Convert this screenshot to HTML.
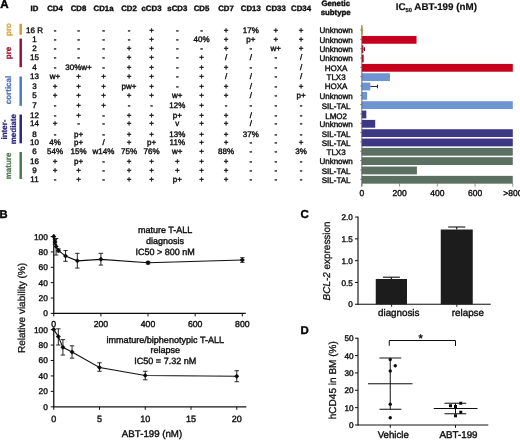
<!DOCTYPE html>
<html><head><meta charset="utf-8"><title>Figure</title>
<style>
html,body{margin:0;padding:0;background:#fff;}
body{width:520px;height:440px;overflow:hidden;font-family:"Liberation Sans",sans-serif;}
svg{display:block;font-family:"Liberation Sans",sans-serif;text-rendering:geometricPrecision;}
</style></head><body>
<svg width="520" height="440" viewBox="0 0 520 440">
<defs><filter id="soft" x="0" y="0" width="520" height="440" filterUnits="userSpaceOnUse"><feGaussianBlur stdDeviation="0.4"/></filter></defs>
<rect width="520" height="440" fill="#fff"/>
<g filter="url(#soft)">
<text x="34.5" y="10.8" font-size="7.8" text-anchor="middle" font-weight="bold" fill="#111" stroke="#111" stroke-width="0.4" >ID</text>
<text x="55" y="10.8" font-size="7.8" text-anchor="middle" font-weight="bold" fill="#111" stroke="#111" stroke-width="0.4" >CD4</text>
<text x="78.5" y="10.8" font-size="7.8" text-anchor="middle" font-weight="bold" fill="#111" stroke="#111" stroke-width="0.4" >CD8</text>
<text x="103.5" y="10.8" font-size="7.8" text-anchor="middle" font-weight="bold" fill="#111" stroke="#111" stroke-width="0.4" >CD1a</text>
<text x="129" y="10.8" font-size="7.8" text-anchor="middle" font-weight="bold" fill="#111" stroke="#111" stroke-width="0.4" >CD2</text>
<text x="151.5" y="10.8" font-size="7.8" text-anchor="middle" font-weight="bold" fill="#111" stroke="#111" stroke-width="0.4" >cCD3</text>
<text x="177.3" y="10.8" font-size="7.8" text-anchor="middle" font-weight="bold" fill="#111" stroke="#111" stroke-width="0.4" >sCD3</text>
<text x="201.5" y="10.8" font-size="7.8" text-anchor="middle" font-weight="bold" fill="#111" stroke="#111" stroke-width="0.4" >CD5</text>
<text x="226" y="10.8" font-size="7.8" text-anchor="middle" font-weight="bold" fill="#111" stroke="#111" stroke-width="0.4" >CD7</text>
<text x="250.8" y="10.8" font-size="7.8" text-anchor="middle" font-weight="bold" fill="#111" stroke="#111" stroke-width="0.4" >CD13</text>
<text x="275.75" y="10.8" font-size="7.8" text-anchor="middle" font-weight="bold" fill="#111" stroke="#111" stroke-width="0.4" >CD33</text>
<text x="301" y="10.8" font-size="7.8" text-anchor="middle" font-weight="bold" fill="#111" stroke="#111" stroke-width="0.4" >CD34</text>
<text x="335.7" y="6.0" font-size="7.8" text-anchor="middle" font-weight="bold" fill="#111" stroke="#111" stroke-width="0.4" >Genetic</text>
<text x="335.7" y="15.2" font-size="7.8" text-anchor="middle" font-weight="bold" fill="#111" stroke="#111" stroke-width="0.4" >subtype</text>
<text x="34.5" y="32.6" font-size="8.0" text-anchor="middle" font-weight="normal" fill="#111" stroke="#111" stroke-width="0.4" >16 R</text>
<text x="55" y="32.6" font-size="8.0" text-anchor="middle" font-weight="normal" fill="#111" stroke="#111" stroke-width="0.4" >-</text>
<text x="78.5" y="32.6" font-size="8.0" text-anchor="middle" font-weight="normal" fill="#111" stroke="#111" stroke-width="0.4" >-</text>
<text x="103.5" y="32.6" font-size="8.0" text-anchor="middle" font-weight="normal" fill="#111" stroke="#111" stroke-width="0.4" >-</text>
<text x="129" y="32.6" font-size="8.0" text-anchor="middle" font-weight="normal" fill="#111" stroke="#111" stroke-width="0.4" >-</text>
<text x="151.5" y="32.6" font-size="8.0" text-anchor="middle" font-weight="normal" fill="#111" stroke="#111" stroke-width="0.4" >+</text>
<text x="177.3" y="32.6" font-size="8.0" text-anchor="middle" font-weight="normal" fill="#111" stroke="#111" stroke-width="0.4" >-</text>
<text x="201.5" y="32.6" font-size="8.0" text-anchor="middle" font-weight="normal" fill="#111" stroke="#111" stroke-width="0.4" >-</text>
<text x="226" y="32.6" font-size="8.0" text-anchor="middle" font-weight="normal" fill="#111" stroke="#111" stroke-width="0.4" >+</text>
<text x="250.8" y="32.6" font-size="8.0" text-anchor="middle" font-weight="normal" fill="#111" stroke="#111" stroke-width="0.4" >17%</text>
<text x="275.75" y="32.6" font-size="8.0" text-anchor="middle" font-weight="normal" fill="#111" stroke="#111" stroke-width="0.4" >+</text>
<text x="301" y="32.6" font-size="8.0" text-anchor="middle" font-weight="normal" fill="#111" stroke="#111" stroke-width="0.4" >+</text>
<text x="336.1" y="33.3" font-size="8.0" text-anchor="middle" font-weight="normal" fill="#111" stroke="#111" stroke-width="0.4" >Unknown</text>
<text x="34.5" y="41.93" font-size="8.0" text-anchor="middle" font-weight="normal" fill="#111" stroke="#111" stroke-width="0.4" >1</text>
<text x="55" y="41.93" font-size="8.0" text-anchor="middle" font-weight="normal" fill="#111" stroke="#111" stroke-width="0.4" >-</text>
<text x="78.5" y="41.93" font-size="8.0" text-anchor="middle" font-weight="normal" fill="#111" stroke="#111" stroke-width="0.4" >-</text>
<text x="103.5" y="41.93" font-size="8.0" text-anchor="middle" font-weight="normal" fill="#111" stroke="#111" stroke-width="0.4" >-</text>
<text x="129" y="41.93" font-size="8.0" text-anchor="middle" font-weight="normal" fill="#111" stroke="#111" stroke-width="0.4" >-</text>
<text x="151.5" y="41.93" font-size="8.0" text-anchor="middle" font-weight="normal" fill="#111" stroke="#111" stroke-width="0.4" >+</text>
<text x="177.3" y="41.93" font-size="8.0" text-anchor="middle" font-weight="normal" fill="#111" stroke="#111" stroke-width="0.4" >-</text>
<text x="201.5" y="41.93" font-size="8.0" text-anchor="middle" font-weight="normal" fill="#111" stroke="#111" stroke-width="0.4" >40%</text>
<text x="226" y="41.93" font-size="8.0" text-anchor="middle" font-weight="normal" fill="#111" stroke="#111" stroke-width="0.4" >+</text>
<text x="250.8" y="41.93" font-size="8.0" text-anchor="middle" font-weight="normal" fill="#111" stroke="#111" stroke-width="0.4" >p+</text>
<text x="275.75" y="41.93" font-size="8.0" text-anchor="middle" font-weight="normal" fill="#111" stroke="#111" stroke-width="0.4" >+</text>
<text x="301" y="41.93" font-size="8.0" text-anchor="middle" font-weight="normal" fill="#111" stroke="#111" stroke-width="0.4" >+</text>
<text x="336.1" y="42.63" font-size="8.0" text-anchor="middle" font-weight="normal" fill="#111" stroke="#111" stroke-width="0.4" >Unknown</text>
<text x="34.5" y="51.36" font-size="8.0" text-anchor="middle" font-weight="normal" fill="#111" stroke="#111" stroke-width="0.4" >2</text>
<text x="55" y="51.36" font-size="8.0" text-anchor="middle" font-weight="normal" fill="#111" stroke="#111" stroke-width="0.4" >-</text>
<text x="78.5" y="51.36" font-size="8.0" text-anchor="middle" font-weight="normal" fill="#111" stroke="#111" stroke-width="0.4" >-</text>
<text x="103.5" y="51.36" font-size="8.0" text-anchor="middle" font-weight="normal" fill="#111" stroke="#111" stroke-width="0.4" >-</text>
<text x="129" y="51.36" font-size="8.0" text-anchor="middle" font-weight="normal" fill="#111" stroke="#111" stroke-width="0.4" >+</text>
<text x="151.5" y="51.36" font-size="8.0" text-anchor="middle" font-weight="normal" fill="#111" stroke="#111" stroke-width="0.4" >+</text>
<text x="177.3" y="51.36" font-size="8.0" text-anchor="middle" font-weight="normal" fill="#111" stroke="#111" stroke-width="0.4" >-</text>
<text x="201.5" y="51.36" font-size="8.0" text-anchor="middle" font-weight="normal" fill="#111" stroke="#111" stroke-width="0.4" >-</text>
<text x="226" y="51.36" font-size="8.0" text-anchor="middle" font-weight="normal" fill="#111" stroke="#111" stroke-width="0.4" >+</text>
<text x="250.8" y="51.36" font-size="8.0" text-anchor="middle" font-weight="normal" fill="#111" stroke="#111" stroke-width="0.4" >-</text>
<text x="275.75" y="51.36" font-size="8.0" text-anchor="middle" font-weight="normal" fill="#111" stroke="#111" stroke-width="0.4" >w+</text>
<text x="301" y="51.36" font-size="8.0" text-anchor="middle" font-weight="normal" fill="#111" stroke="#111" stroke-width="0.4" >+</text>
<text x="336.1" y="52.06" font-size="8.0" text-anchor="middle" font-weight="normal" fill="#111" stroke="#111" stroke-width="0.4" >Unknown</text>
<text x="34.5" y="60.19" font-size="8.0" text-anchor="middle" font-weight="normal" fill="#111" stroke="#111" stroke-width="0.4" >15</text>
<text x="55" y="60.19" font-size="8.0" text-anchor="middle" font-weight="normal" fill="#111" stroke="#111" stroke-width="0.4" >-</text>
<text x="78.5" y="60.19" font-size="8.0" text-anchor="middle" font-weight="normal" fill="#111" stroke="#111" stroke-width="0.4" >-</text>
<text x="103.5" y="60.19" font-size="8.0" text-anchor="middle" font-weight="normal" fill="#111" stroke="#111" stroke-width="0.4" >-</text>
<text x="129" y="60.19" font-size="8.0" text-anchor="middle" font-weight="normal" fill="#111" stroke="#111" stroke-width="0.4" >+</text>
<text x="151.5" y="60.19" font-size="8.0" text-anchor="middle" font-weight="normal" fill="#111" stroke="#111" stroke-width="0.4" >+</text>
<text x="177.3" y="60.19" font-size="8.0" text-anchor="middle" font-weight="normal" fill="#111" stroke="#111" stroke-width="0.4" >-</text>
<text x="201.5" y="60.19" font-size="8.0" text-anchor="middle" font-weight="normal" fill="#111" stroke="#111" stroke-width="0.4" >+</text>
<text x="226" y="60.19" font-size="8.0" text-anchor="middle" font-weight="normal" fill="#111" stroke="#111" stroke-width="0.4" >/</text>
<text x="250.8" y="60.19" font-size="8.0" text-anchor="middle" font-weight="normal" fill="#111" stroke="#111" stroke-width="0.4" >/</text>
<text x="275.75" y="60.19" font-size="8.0" text-anchor="middle" font-weight="normal" fill="#111" stroke="#111" stroke-width="0.4" >-</text>
<text x="301" y="60.19" font-size="8.0" text-anchor="middle" font-weight="normal" fill="#111" stroke="#111" stroke-width="0.4" >/</text>
<text x="336.1" y="60.89" font-size="8.0" text-anchor="middle" font-weight="normal" fill="#111" stroke="#111" stroke-width="0.4" >Unknown</text>
<text x="34.5" y="70.02" font-size="8.0" text-anchor="middle" font-weight="normal" fill="#111" stroke="#111" stroke-width="0.4" >4</text>
<text x="55" y="70.02" font-size="8.0" text-anchor="middle" font-weight="normal" fill="#111" stroke="#111" stroke-width="0.4" >-</text>
<text x="78.5" y="70.02" font-size="8.0" text-anchor="middle" font-weight="normal" fill="#111" stroke="#111" stroke-width="0.4" >30%w+</text>
<text x="103.5" y="70.02" font-size="8.0" text-anchor="middle" font-weight="normal" fill="#111" stroke="#111" stroke-width="0.4" >-</text>
<text x="129" y="70.02" font-size="8.0" text-anchor="middle" font-weight="normal" fill="#111" stroke="#111" stroke-width="0.4" >+</text>
<text x="151.5" y="70.02" font-size="8.0" text-anchor="middle" font-weight="normal" fill="#111" stroke="#111" stroke-width="0.4" >+</text>
<text x="177.3" y="70.02" font-size="8.0" text-anchor="middle" font-weight="normal" fill="#111" stroke="#111" stroke-width="0.4" >-</text>
<text x="201.5" y="70.02" font-size="8.0" text-anchor="middle" font-weight="normal" fill="#111" stroke="#111" stroke-width="0.4" >+</text>
<text x="226" y="70.02" font-size="8.0" text-anchor="middle" font-weight="normal" fill="#111" stroke="#111" stroke-width="0.4" >+</text>
<text x="250.8" y="70.02" font-size="8.0" text-anchor="middle" font-weight="normal" fill="#111" stroke="#111" stroke-width="0.4" >-</text>
<text x="275.75" y="70.02" font-size="8.0" text-anchor="middle" font-weight="normal" fill="#111" stroke="#111" stroke-width="0.4" >-</text>
<text x="301" y="70.02" font-size="8.0" text-anchor="middle" font-weight="normal" fill="#111" stroke="#111" stroke-width="0.4" >/</text>
<text x="336.1" y="70.72" font-size="8.0" text-anchor="middle" font-weight="normal" fill="#111" stroke="#111" stroke-width="0.4" >HOXA</text>
<text x="34.5" y="79.45" font-size="8.0" text-anchor="middle" font-weight="normal" fill="#111" stroke="#111" stroke-width="0.4" >13</text>
<text x="55" y="79.45" font-size="8.0" text-anchor="middle" font-weight="normal" fill="#111" stroke="#111" stroke-width="0.4" >w+</text>
<text x="78.5" y="79.45" font-size="8.0" text-anchor="middle" font-weight="normal" fill="#111" stroke="#111" stroke-width="0.4" >+</text>
<text x="103.5" y="79.45" font-size="8.0" text-anchor="middle" font-weight="normal" fill="#111" stroke="#111" stroke-width="0.4" >+</text>
<text x="129" y="79.45" font-size="8.0" text-anchor="middle" font-weight="normal" fill="#111" stroke="#111" stroke-width="0.4" >+</text>
<text x="151.5" y="79.45" font-size="8.0" text-anchor="middle" font-weight="normal" fill="#111" stroke="#111" stroke-width="0.4" >+</text>
<text x="177.3" y="79.45" font-size="8.0" text-anchor="middle" font-weight="normal" fill="#111" stroke="#111" stroke-width="0.4" >-</text>
<text x="201.5" y="79.45" font-size="8.0" text-anchor="middle" font-weight="normal" fill="#111" stroke="#111" stroke-width="0.4" >+</text>
<text x="226" y="79.45" font-size="8.0" text-anchor="middle" font-weight="normal" fill="#111" stroke="#111" stroke-width="0.4" >/</text>
<text x="250.8" y="79.45" font-size="8.0" text-anchor="middle" font-weight="normal" fill="#111" stroke="#111" stroke-width="0.4" >/</text>
<text x="275.75" y="79.45" font-size="8.0" text-anchor="middle" font-weight="normal" fill="#111" stroke="#111" stroke-width="0.4" >-</text>
<text x="301" y="79.45" font-size="8.0" text-anchor="middle" font-weight="normal" fill="#111" stroke="#111" stroke-width="0.4" >/</text>
<text x="336.1" y="80.15" font-size="8.0" text-anchor="middle" font-weight="normal" fill="#111" stroke="#111" stroke-width="0.4" >TLX3</text>
<text x="34.5" y="88.78" font-size="8.0" text-anchor="middle" font-weight="normal" fill="#111" stroke="#111" stroke-width="0.4" >3</text>
<text x="55" y="88.78" font-size="8.0" text-anchor="middle" font-weight="normal" fill="#111" stroke="#111" stroke-width="0.4" >+</text>
<text x="78.5" y="88.78" font-size="8.0" text-anchor="middle" font-weight="normal" fill="#111" stroke="#111" stroke-width="0.4" >+</text>
<text x="103.5" y="88.78" font-size="8.0" text-anchor="middle" font-weight="normal" fill="#111" stroke="#111" stroke-width="0.4" >+</text>
<text x="129" y="88.78" font-size="8.0" text-anchor="middle" font-weight="normal" fill="#111" stroke="#111" stroke-width="0.4" >pw+</text>
<text x="151.5" y="88.78" font-size="8.0" text-anchor="middle" font-weight="normal" fill="#111" stroke="#111" stroke-width="0.4" >+</text>
<text x="177.3" y="88.78" font-size="8.0" text-anchor="middle" font-weight="normal" fill="#111" stroke="#111" stroke-width="0.4" >-</text>
<text x="201.5" y="88.78" font-size="8.0" text-anchor="middle" font-weight="normal" fill="#111" stroke="#111" stroke-width="0.4" >+</text>
<text x="226" y="88.78" font-size="8.0" text-anchor="middle" font-weight="normal" fill="#111" stroke="#111" stroke-width="0.4" >+</text>
<text x="250.8" y="88.78" font-size="8.0" text-anchor="middle" font-weight="normal" fill="#111" stroke="#111" stroke-width="0.4" >/</text>
<text x="275.75" y="88.78" font-size="8.0" text-anchor="middle" font-weight="normal" fill="#111" stroke="#111" stroke-width="0.4" >-</text>
<text x="301" y="88.78" font-size="8.0" text-anchor="middle" font-weight="normal" fill="#111" stroke="#111" stroke-width="0.4" >+</text>
<text x="336.1" y="89.48" font-size="8.0" text-anchor="middle" font-weight="normal" fill="#111" stroke="#111" stroke-width="0.4" >HOXA</text>
<text x="34.5" y="98.31" font-size="8.0" text-anchor="middle" font-weight="normal" fill="#111" stroke="#111" stroke-width="0.4" >5</text>
<text x="55" y="98.31" font-size="8.0" text-anchor="middle" font-weight="normal" fill="#111" stroke="#111" stroke-width="0.4" >+</text>
<text x="78.5" y="98.31" font-size="8.0" text-anchor="middle" font-weight="normal" fill="#111" stroke="#111" stroke-width="0.4" >+</text>
<text x="103.5" y="98.31" font-size="8.0" text-anchor="middle" font-weight="normal" fill="#111" stroke="#111" stroke-width="0.4" >+</text>
<text x="129" y="98.31" font-size="8.0" text-anchor="middle" font-weight="normal" fill="#111" stroke="#111" stroke-width="0.4" >+</text>
<text x="151.5" y="98.31" font-size="8.0" text-anchor="middle" font-weight="normal" fill="#111" stroke="#111" stroke-width="0.4" >+</text>
<text x="177.3" y="98.31" font-size="8.0" text-anchor="middle" font-weight="normal" fill="#111" stroke="#111" stroke-width="0.4" >w+</text>
<text x="201.5" y="98.31" font-size="8.0" text-anchor="middle" font-weight="normal" fill="#111" stroke="#111" stroke-width="0.4" >+</text>
<text x="226" y="98.31" font-size="8.0" text-anchor="middle" font-weight="normal" fill="#111" stroke="#111" stroke-width="0.4" >+</text>
<text x="250.8" y="98.31" font-size="8.0" text-anchor="middle" font-weight="normal" fill="#111" stroke="#111" stroke-width="0.4" >/</text>
<text x="275.75" y="98.31" font-size="8.0" text-anchor="middle" font-weight="normal" fill="#111" stroke="#111" stroke-width="0.4" >-</text>
<text x="301" y="98.31" font-size="8.0" text-anchor="middle" font-weight="normal" fill="#111" stroke="#111" stroke-width="0.4" >p+</text>
<text x="336.1" y="99.01" font-size="8.0" text-anchor="middle" font-weight="normal" fill="#111" stroke="#111" stroke-width="0.4" >Unknown</text>
<text x="34.5" y="107.94" font-size="8.0" text-anchor="middle" font-weight="normal" fill="#111" stroke="#111" stroke-width="0.4" >7</text>
<text x="55" y="107.94" font-size="8.0" text-anchor="middle" font-weight="normal" fill="#111" stroke="#111" stroke-width="0.4" >-</text>
<text x="78.5" y="107.94" font-size="8.0" text-anchor="middle" font-weight="normal" fill="#111" stroke="#111" stroke-width="0.4" >+</text>
<text x="103.5" y="107.94" font-size="8.0" text-anchor="middle" font-weight="normal" fill="#111" stroke="#111" stroke-width="0.4" >+</text>
<text x="129" y="107.94" font-size="8.0" text-anchor="middle" font-weight="normal" fill="#111" stroke="#111" stroke-width="0.4" >-</text>
<text x="151.5" y="107.94" font-size="8.0" text-anchor="middle" font-weight="normal" fill="#111" stroke="#111" stroke-width="0.4" >-</text>
<text x="177.3" y="107.94" font-size="8.0" text-anchor="middle" font-weight="normal" fill="#111" stroke="#111" stroke-width="0.4" >12%</text>
<text x="201.5" y="107.94" font-size="8.0" text-anchor="middle" font-weight="normal" fill="#111" stroke="#111" stroke-width="0.4" >+</text>
<text x="226" y="107.94" font-size="8.0" text-anchor="middle" font-weight="normal" fill="#111" stroke="#111" stroke-width="0.4" >-</text>
<text x="250.8" y="107.94" font-size="8.0" text-anchor="middle" font-weight="normal" fill="#111" stroke="#111" stroke-width="0.4" >-</text>
<text x="275.75" y="107.94" font-size="8.0" text-anchor="middle" font-weight="normal" fill="#111" stroke="#111" stroke-width="0.4" >-</text>
<text x="301" y="107.94" font-size="8.0" text-anchor="middle" font-weight="normal" fill="#111" stroke="#111" stroke-width="0.4" >-</text>
<text x="336.1" y="108.64" font-size="8.0" text-anchor="middle" font-weight="normal" fill="#111" stroke="#111" stroke-width="0.4" >SIL-TAL</text>
<text x="34.5" y="117.87" font-size="8.0" text-anchor="middle" font-weight="normal" fill="#111" stroke="#111" stroke-width="0.4" >12</text>
<text x="55" y="117.87" font-size="8.0" text-anchor="middle" font-weight="normal" fill="#111" stroke="#111" stroke-width="0.4" >-</text>
<text x="78.5" y="117.87" font-size="8.0" text-anchor="middle" font-weight="normal" fill="#111" stroke="#111" stroke-width="0.4" >+</text>
<text x="103.5" y="117.87" font-size="8.0" text-anchor="middle" font-weight="normal" fill="#111" stroke="#111" stroke-width="0.4" >-</text>
<text x="129" y="117.87" font-size="8.0" text-anchor="middle" font-weight="normal" fill="#111" stroke="#111" stroke-width="0.4" >+</text>
<text x="151.5" y="117.87" font-size="8.0" text-anchor="middle" font-weight="normal" fill="#111" stroke="#111" stroke-width="0.4" >+</text>
<text x="177.3" y="117.87" font-size="8.0" text-anchor="middle" font-weight="normal" fill="#111" stroke="#111" stroke-width="0.4" >p+</text>
<text x="201.5" y="117.87" font-size="8.0" text-anchor="middle" font-weight="normal" fill="#111" stroke="#111" stroke-width="0.4" >+</text>
<text x="226" y="117.87" font-size="8.0" text-anchor="middle" font-weight="normal" fill="#111" stroke="#111" stroke-width="0.4" >+</text>
<text x="250.8" y="117.87" font-size="8.0" text-anchor="middle" font-weight="normal" fill="#111" stroke="#111" stroke-width="0.4" >/</text>
<text x="275.75" y="117.87" font-size="8.0" text-anchor="middle" font-weight="normal" fill="#111" stroke="#111" stroke-width="0.4" >-</text>
<text x="301" y="117.87" font-size="8.0" text-anchor="middle" font-weight="normal" fill="#111" stroke="#111" stroke-width="0.4" >-</text>
<text x="336.1" y="118.57" font-size="8.0" text-anchor="middle" font-weight="normal" fill="#111" stroke="#111" stroke-width="0.4" >LMO2</text>
<text x="34.5" y="126.1" font-size="8.0" text-anchor="middle" font-weight="normal" fill="#111" stroke="#111" stroke-width="0.4" >14</text>
<text x="55" y="126.1" font-size="8.0" text-anchor="middle" font-weight="normal" fill="#111" stroke="#111" stroke-width="0.4" >+</text>
<text x="78.5" y="126.1" font-size="8.0" text-anchor="middle" font-weight="normal" fill="#111" stroke="#111" stroke-width="0.4" >-</text>
<text x="103.5" y="126.1" font-size="8.0" text-anchor="middle" font-weight="normal" fill="#111" stroke="#111" stroke-width="0.4" >-</text>
<text x="129" y="126.1" font-size="8.0" text-anchor="middle" font-weight="normal" fill="#111" stroke="#111" stroke-width="0.4" >+</text>
<text x="151.5" y="126.1" font-size="8.0" text-anchor="middle" font-weight="normal" fill="#111" stroke="#111" stroke-width="0.4" >+</text>
<text x="177.3" y="126.1" font-size="8.0" text-anchor="middle" font-weight="normal" fill="#111" stroke="#111" stroke-width="0.4" >v</text>
<text x="201.5" y="126.1" font-size="8.0" text-anchor="middle" font-weight="normal" fill="#111" stroke="#111" stroke-width="0.4" >+</text>
<text x="226" y="126.1" font-size="8.0" text-anchor="middle" font-weight="normal" fill="#111" stroke="#111" stroke-width="0.4" >+</text>
<text x="250.8" y="126.1" font-size="8.0" text-anchor="middle" font-weight="normal" fill="#111" stroke="#111" stroke-width="0.4" >/</text>
<text x="275.75" y="126.1" font-size="8.0" text-anchor="middle" font-weight="normal" fill="#111" stroke="#111" stroke-width="0.4" >-</text>
<text x="301" y="126.1" font-size="8.0" text-anchor="middle" font-weight="normal" fill="#111" stroke="#111" stroke-width="0.4" >-</text>
<text x="336.1" y="126.8" font-size="8.0" text-anchor="middle" font-weight="normal" fill="#111" stroke="#111" stroke-width="0.4" >Unknown</text>
<text x="34.5" y="136.53" font-size="8.0" text-anchor="middle" font-weight="normal" fill="#111" stroke="#111" stroke-width="0.4" >8</text>
<text x="55" y="136.53" font-size="8.0" text-anchor="middle" font-weight="normal" fill="#111" stroke="#111" stroke-width="0.4" >-</text>
<text x="78.5" y="136.53" font-size="8.0" text-anchor="middle" font-weight="normal" fill="#111" stroke="#111" stroke-width="0.4" >p+</text>
<text x="103.5" y="136.53" font-size="8.0" text-anchor="middle" font-weight="normal" fill="#111" stroke="#111" stroke-width="0.4" >-</text>
<text x="129" y="136.53" font-size="8.0" text-anchor="middle" font-weight="normal" fill="#111" stroke="#111" stroke-width="0.4" >+</text>
<text x="151.5" y="136.53" font-size="8.0" text-anchor="middle" font-weight="normal" fill="#111" stroke="#111" stroke-width="0.4" >+</text>
<text x="177.3" y="136.53" font-size="8.0" text-anchor="middle" font-weight="normal" fill="#111" stroke="#111" stroke-width="0.4" >13%</text>
<text x="201.5" y="136.53" font-size="8.0" text-anchor="middle" font-weight="normal" fill="#111" stroke="#111" stroke-width="0.4" >+</text>
<text x="226" y="136.53" font-size="8.0" text-anchor="middle" font-weight="normal" fill="#111" stroke="#111" stroke-width="0.4" >+</text>
<text x="250.8" y="136.53" font-size="8.0" text-anchor="middle" font-weight="normal" fill="#111" stroke="#111" stroke-width="0.4" >37%</text>
<text x="275.75" y="136.53" font-size="8.0" text-anchor="middle" font-weight="normal" fill="#111" stroke="#111" stroke-width="0.4" >-</text>
<text x="301" y="136.53" font-size="8.0" text-anchor="middle" font-weight="normal" fill="#111" stroke="#111" stroke-width="0.4" >-</text>
<text x="336.1" y="137.23" font-size="8.0" text-anchor="middle" font-weight="normal" fill="#111" stroke="#111" stroke-width="0.4" >SIL-TAL</text>
<text x="34.5" y="144.96" font-size="8.0" text-anchor="middle" font-weight="normal" fill="#111" stroke="#111" stroke-width="0.4" >10</text>
<text x="55" y="144.96" font-size="8.0" text-anchor="middle" font-weight="normal" fill="#111" stroke="#111" stroke-width="0.4" >4%</text>
<text x="78.5" y="144.96" font-size="8.0" text-anchor="middle" font-weight="normal" fill="#111" stroke="#111" stroke-width="0.4" >p+</text>
<text x="103.5" y="144.96" font-size="8.0" text-anchor="middle" font-weight="normal" fill="#111" stroke="#111" stroke-width="0.4" >/</text>
<text x="129" y="144.96" font-size="8.0" text-anchor="middle" font-weight="normal" fill="#111" stroke="#111" stroke-width="0.4" >+</text>
<text x="151.5" y="144.96" font-size="8.0" text-anchor="middle" font-weight="normal" fill="#111" stroke="#111" stroke-width="0.4" >p+</text>
<text x="177.3" y="144.96" font-size="8.0" text-anchor="middle" font-weight="normal" fill="#111" stroke="#111" stroke-width="0.4" >11%</text>
<text x="201.5" y="144.96" font-size="8.0" text-anchor="middle" font-weight="normal" fill="#111" stroke="#111" stroke-width="0.4" >+</text>
<text x="226" y="144.96" font-size="8.0" text-anchor="middle" font-weight="normal" fill="#111" stroke="#111" stroke-width="0.4" >+</text>
<text x="250.8" y="144.96" font-size="8.0" text-anchor="middle" font-weight="normal" fill="#111" stroke="#111" stroke-width="0.4" >-</text>
<text x="275.75" y="144.96" font-size="8.0" text-anchor="middle" font-weight="normal" fill="#111" stroke="#111" stroke-width="0.4" >-</text>
<text x="301" y="144.96" font-size="8.0" text-anchor="middle" font-weight="normal" fill="#111" stroke="#111" stroke-width="0.4" >+</text>
<text x="336.1" y="145.66" font-size="8.0" text-anchor="middle" font-weight="normal" fill="#111" stroke="#111" stroke-width="0.4" >SIL-TAL</text>
<text x="34.5" y="154.39" font-size="8.0" text-anchor="middle" font-weight="normal" fill="#111" stroke="#111" stroke-width="0.4" >6</text>
<text x="55" y="154.39" font-size="8.0" text-anchor="middle" font-weight="normal" fill="#111" stroke="#111" stroke-width="0.4" >54%</text>
<text x="78.5" y="154.39" font-size="8.0" text-anchor="middle" font-weight="normal" fill="#111" stroke="#111" stroke-width="0.4" >15%</text>
<text x="103.5" y="154.39" font-size="8.0" text-anchor="middle" font-weight="normal" fill="#111" stroke="#111" stroke-width="0.4" >w14%</text>
<text x="129" y="154.39" font-size="8.0" text-anchor="middle" font-weight="normal" fill="#111" stroke="#111" stroke-width="0.4" >75%</text>
<text x="151.5" y="154.39" font-size="8.0" text-anchor="middle" font-weight="normal" fill="#111" stroke="#111" stroke-width="0.4" >76%</text>
<text x="177.3" y="154.39" font-size="8.0" text-anchor="middle" font-weight="normal" fill="#111" stroke="#111" stroke-width="0.4" >w+</text>
<text x="201.5" y="154.39" font-size="8.0" text-anchor="middle" font-weight="normal" fill="#111" stroke="#111" stroke-width="0.4" >+</text>
<text x="226" y="154.39" font-size="8.0" text-anchor="middle" font-weight="normal" fill="#111" stroke="#111" stroke-width="0.4" >88%</text>
<text x="250.8" y="154.39" font-size="8.0" text-anchor="middle" font-weight="normal" fill="#111" stroke="#111" stroke-width="0.4" >-</text>
<text x="275.75" y="154.39" font-size="8.0" text-anchor="middle" font-weight="normal" fill="#111" stroke="#111" stroke-width="0.4" >-</text>
<text x="301" y="154.39" font-size="8.0" text-anchor="middle" font-weight="normal" fill="#111" stroke="#111" stroke-width="0.4" >3%</text>
<text x="336.1" y="155.09" font-size="8.0" text-anchor="middle" font-weight="normal" fill="#111" stroke="#111" stroke-width="0.4" >TLX3</text>
<text x="34.5" y="163.72" font-size="8.0" text-anchor="middle" font-weight="normal" fill="#111" stroke="#111" stroke-width="0.4" >16</text>
<text x="55" y="163.72" font-size="8.0" text-anchor="middle" font-weight="normal" fill="#111" stroke="#111" stroke-width="0.4" >+</text>
<text x="78.5" y="163.72" font-size="8.0" text-anchor="middle" font-weight="normal" fill="#111" stroke="#111" stroke-width="0.4" >p+</text>
<text x="103.5" y="163.72" font-size="8.0" text-anchor="middle" font-weight="normal" fill="#111" stroke="#111" stroke-width="0.4" >-</text>
<text x="129" y="163.72" font-size="8.0" text-anchor="middle" font-weight="normal" fill="#111" stroke="#111" stroke-width="0.4" >+</text>
<text x="151.5" y="163.72" font-size="8.0" text-anchor="middle" font-weight="normal" fill="#111" stroke="#111" stroke-width="0.4" >+</text>
<text x="177.3" y="163.72" font-size="8.0" text-anchor="middle" font-weight="normal" fill="#111" stroke="#111" stroke-width="0.4" >+</text>
<text x="201.5" y="163.72" font-size="8.0" text-anchor="middle" font-weight="normal" fill="#111" stroke="#111" stroke-width="0.4" >+</text>
<text x="226" y="163.72" font-size="8.0" text-anchor="middle" font-weight="normal" fill="#111" stroke="#111" stroke-width="0.4" >+</text>
<text x="250.8" y="163.72" font-size="8.0" text-anchor="middle" font-weight="normal" fill="#111" stroke="#111" stroke-width="0.4" >-</text>
<text x="275.75" y="163.72" font-size="8.0" text-anchor="middle" font-weight="normal" fill="#111" stroke="#111" stroke-width="0.4" >-</text>
<text x="301" y="163.72" font-size="8.0" text-anchor="middle" font-weight="normal" fill="#111" stroke="#111" stroke-width="0.4" >-</text>
<text x="336.1" y="164.42" font-size="8.0" text-anchor="middle" font-weight="normal" fill="#111" stroke="#111" stroke-width="0.4" >Unknown</text>
<text x="34.5" y="172.95" font-size="8.0" text-anchor="middle" font-weight="normal" fill="#111" stroke="#111" stroke-width="0.4" >9</text>
<text x="55" y="172.95" font-size="8.0" text-anchor="middle" font-weight="normal" fill="#111" stroke="#111" stroke-width="0.4" >+</text>
<text x="78.5" y="172.95" font-size="8.0" text-anchor="middle" font-weight="normal" fill="#111" stroke="#111" stroke-width="0.4" >+</text>
<text x="103.5" y="172.95" font-size="8.0" text-anchor="middle" font-weight="normal" fill="#111" stroke="#111" stroke-width="0.4" >-</text>
<text x="129" y="172.95" font-size="8.0" text-anchor="middle" font-weight="normal" fill="#111" stroke="#111" stroke-width="0.4" >+</text>
<text x="151.5" y="172.95" font-size="8.0" text-anchor="middle" font-weight="normal" fill="#111" stroke="#111" stroke-width="0.4" >+</text>
<text x="177.3" y="172.95" font-size="8.0" text-anchor="middle" font-weight="normal" fill="#111" stroke="#111" stroke-width="0.4" >+</text>
<text x="201.5" y="172.95" font-size="8.0" text-anchor="middle" font-weight="normal" fill="#111" stroke="#111" stroke-width="0.4" >+</text>
<text x="226" y="172.95" font-size="8.0" text-anchor="middle" font-weight="normal" fill="#111" stroke="#111" stroke-width="0.4" >+</text>
<text x="250.8" y="172.95" font-size="8.0" text-anchor="middle" font-weight="normal" fill="#111" stroke="#111" stroke-width="0.4" >-</text>
<text x="275.75" y="172.95" font-size="8.0" text-anchor="middle" font-weight="normal" fill="#111" stroke="#111" stroke-width="0.4" >-</text>
<text x="301" y="172.95" font-size="8.0" text-anchor="middle" font-weight="normal" fill="#111" stroke="#111" stroke-width="0.4" >-</text>
<text x="336.1" y="173.65" font-size="8.0" text-anchor="middle" font-weight="normal" fill="#111" stroke="#111" stroke-width="0.4" >SIL-TAL</text>
<text x="34.5" y="181.88" font-size="8.0" text-anchor="middle" font-weight="normal" fill="#111" stroke="#111" stroke-width="0.4" >11</text>
<text x="55" y="181.88" font-size="8.0" text-anchor="middle" font-weight="normal" fill="#111" stroke="#111" stroke-width="0.4" >-</text>
<text x="78.5" y="181.88" font-size="8.0" text-anchor="middle" font-weight="normal" fill="#111" stroke="#111" stroke-width="0.4" >+</text>
<text x="103.5" y="181.88" font-size="8.0" text-anchor="middle" font-weight="normal" fill="#111" stroke="#111" stroke-width="0.4" >-</text>
<text x="129" y="181.88" font-size="8.0" text-anchor="middle" font-weight="normal" fill="#111" stroke="#111" stroke-width="0.4" >+</text>
<text x="151.5" y="181.88" font-size="8.0" text-anchor="middle" font-weight="normal" fill="#111" stroke="#111" stroke-width="0.4" >+</text>
<text x="177.3" y="181.88" font-size="8.0" text-anchor="middle" font-weight="normal" fill="#111" stroke="#111" stroke-width="0.4" >p+</text>
<text x="201.5" y="181.88" font-size="8.0" text-anchor="middle" font-weight="normal" fill="#111" stroke="#111" stroke-width="0.4" >+</text>
<text x="226" y="181.88" font-size="8.0" text-anchor="middle" font-weight="normal" fill="#111" stroke="#111" stroke-width="0.4" >+</text>
<text x="250.8" y="181.88" font-size="8.0" text-anchor="middle" font-weight="normal" fill="#111" stroke="#111" stroke-width="0.4" >-</text>
<text x="275.75" y="181.88" font-size="8.0" text-anchor="middle" font-weight="normal" fill="#111" stroke="#111" stroke-width="0.4" >-</text>
<text x="301" y="181.88" font-size="8.0" text-anchor="middle" font-weight="normal" fill="#111" stroke="#111" stroke-width="0.4" >-</text>
<text x="336.1" y="182.58" font-size="8.0" text-anchor="middle" font-weight="normal" fill="#111" stroke="#111" stroke-width="0.4" >SIL-TAL</text>
<text transform="translate(11.2,29.5) rotate(-90)" font-size="8" text-anchor="middle" font-weight="bold" fill="#dca23c" stroke="#dca23c" stroke-width="0.2">pro</text>
<text transform="translate(11.2,53) rotate(-90)" font-size="8" text-anchor="middle" font-weight="bold" fill="#a80f30" stroke="#a80f30" stroke-width="0.2">pre</text>
<text transform="translate(11.2,90) rotate(-90)" font-size="8" text-anchor="middle" font-weight="bold" fill="#4a70c0" stroke="#4a70c0" stroke-width="0.2">cortical</text>
<text transform="translate(6.5,129.5) rotate(-90)" font-size="8" text-anchor="middle" font-weight="bold" fill="#2a2580" stroke="#2a2580" stroke-width="0.2">inter-</text>
<text transform="translate(15.6,129.2) rotate(-90)" font-size="8" text-anchor="middle" font-weight="bold" fill="#2a2580" stroke="#2a2580" stroke-width="0.2">mediate</text>
<text transform="translate(10.6,166) rotate(-90)" font-size="8" text-anchor="middle" font-weight="bold" fill="#4a7a50" stroke="#4a7a50" stroke-width="0.2">mature</text>
<line x1="20.7" y1="23.8" x2="20.7" y2="34.8" stroke="#d49a30" stroke-width="2.5"/>
<line x1="20.7" y1="38.6" x2="20.7" y2="67.2" stroke="#a01030" stroke-width="2.5"/>
<line x1="20.7" y1="76.5" x2="20.7" y2="105.8" stroke="#4a78c8" stroke-width="2.5"/>
<line x1="20.7" y1="114.5" x2="20.7" y2="143.3" stroke="#2a2580" stroke-width="2.5"/>
<line x1="20.7" y1="152" x2="20.7" y2="179" stroke="#4a7a50" stroke-width="2.5"/>
<text x="0.2" y="8.3" font-size="11.6" text-anchor="start" font-weight="bold" fill="#000" stroke="#000" stroke-width="0.4" >A</text>
<rect x="361.8" y="26.6" width="1.32" height="7.8" fill="#d9b45a"/>
<line x1="360.0" y1="30.0" x2="361.8" y2="30.0" stroke="#555" stroke-width="0.6"/>
<rect x="361.8" y="35.93" width="54.74" height="7.8" fill="#c4001c"/>
<line x1="360.0" y1="39.33" x2="361.8" y2="39.33" stroke="#555" stroke-width="0.6"/>
<rect x="361.8" y="45.26" width="1.51" height="7.8" fill="#c4001c"/>
<line x1="363.31" y1="49.16" x2="364.4425" y2="49.16" stroke="#7a1020" stroke-width="1.1"/>
<line x1="364.4425" y1="47.36" x2="364.4425" y2="50.959999999999994" stroke="#7a1020" stroke-width="1.1"/>
<line x1="360.0" y1="48.66" x2="361.8" y2="48.66" stroke="#555" stroke-width="0.6"/>
<rect x="361.8" y="54.59" width="1.89" height="7.8" fill="#c4001c"/>
<line x1="360.0" y1="57.99" x2="361.8" y2="57.99" stroke="#555" stroke-width="0.6"/>
<rect x="361.8" y="63.92" width="151.0" height="7.8" fill="#c4001c"/>
<line x1="360.0" y1="67.32" x2="361.8" y2="67.32" stroke="#555" stroke-width="0.6"/>
<rect x="361.8" y="73.25" width="28.12" height="7.8" fill="#6f93d2"/>
<line x1="360.0" y1="76.65" x2="361.8" y2="76.65" stroke="#555" stroke-width="0.6"/>
<rect x="361.8" y="82.58" width="8.49" height="7.8" fill="#6f93d2"/>
<line x1="370.29375" y1="86.48" x2="377.46625" y2="86.48" stroke="#2e2e3a" stroke-width="1.1"/>
<line x1="377.46625" y1="84.68" x2="377.46625" y2="88.28" stroke="#2e2e3a" stroke-width="1.1"/>
<line x1="360.0" y1="85.98" x2="361.8" y2="85.98" stroke="#555" stroke-width="0.6"/>
<rect x="361.8" y="91.91" width="5.29" height="7.8" fill="#6f93d2"/>
<line x1="360.0" y1="95.31" x2="361.8" y2="95.31" stroke="#555" stroke-width="0.6"/>
<rect x="361.8" y="101.24" width="151.0" height="7.8" fill="#6f93d2"/>
<line x1="360.0" y1="104.64" x2="361.8" y2="104.64" stroke="#555" stroke-width="0.6"/>
<rect x="361.8" y="110.57" width="4.53" height="7.8" fill="#3d3884"/>
<line x1="360.0" y1="113.97" x2="361.8" y2="113.97" stroke="#555" stroke-width="0.6"/>
<rect x="361.8" y="119.9" width="13.4" height="7.8" fill="#3d3884"/>
<line x1="360.0" y1="123.3" x2="361.8" y2="123.3" stroke="#555" stroke-width="0.6"/>
<rect x="361.8" y="129.23" width="151.0" height="7.8" fill="#3d3884"/>
<line x1="360.0" y1="132.63" x2="361.8" y2="132.63" stroke="#555" stroke-width="0.6"/>
<rect x="361.8" y="138.56" width="151.0" height="7.8" fill="#3d3884"/>
<line x1="360.0" y1="141.96" x2="361.8" y2="141.96" stroke="#555" stroke-width="0.6"/>
<rect x="361.8" y="147.89" width="151.0" height="7.8" fill="#5c7062"/>
<line x1="360.0" y1="151.29000000000002" x2="361.8" y2="151.29000000000002" stroke="#555" stroke-width="0.6"/>
<rect x="361.8" y="157.22" width="151.0" height="7.8" fill="#5c7062"/>
<line x1="360.0" y1="160.62" x2="361.8" y2="160.62" stroke="#555" stroke-width="0.6"/>
<rect x="361.8" y="166.55" width="55.12" height="7.8" fill="#5c7062"/>
<line x1="360.0" y1="169.95" x2="361.8" y2="169.95" stroke="#555" stroke-width="0.6"/>
<rect x="361.8" y="175.88" width="151.0" height="7.8" fill="#5c7062"/>
<line x1="360.0" y1="179.28" x2="361.8" y2="179.28" stroke="#555" stroke-width="0.6"/>
<line x1="361.8" y1="25" x2="361.8" y2="186.6" stroke="#555" stroke-width="0.8"/>
<text x="361.8" y="196.4" font-size="8.5" text-anchor="middle" font-weight="normal" fill="#111" stroke="#111" stroke-width="0.4" >0</text>
<line x1="361.8" y1="183.4" x2="361.8" y2="186.6" stroke="#666" stroke-width="0.7"/>
<text x="399.55" y="196.4" font-size="8.5" text-anchor="middle" font-weight="normal" fill="#111" stroke="#111" stroke-width="0.4" >200</text>
<line x1="399.55" y1="183.4" x2="399.55" y2="186.6" stroke="#666" stroke-width="0.7"/>
<text x="437.3" y="196.4" font-size="8.5" text-anchor="middle" font-weight="normal" fill="#111" stroke="#111" stroke-width="0.4" >400</text>
<line x1="437.3" y1="183.4" x2="437.3" y2="186.6" stroke="#666" stroke-width="0.7"/>
<text x="475.05" y="196.4" font-size="8.5" text-anchor="middle" font-weight="normal" fill="#111" stroke="#111" stroke-width="0.4" >600</text>
<line x1="475.05" y1="183.4" x2="475.05" y2="186.6" stroke="#666" stroke-width="0.7"/>
<text x="512.8" y="196.4" font-size="8.5" text-anchor="middle" font-weight="normal" fill="#111" stroke="#111" stroke-width="0.4" >&gt;800</text>
<line x1="512.8" y1="183.4" x2="512.8" y2="186.6" stroke="#666" stroke-width="0.7"/>
<text x="436.3" y="10" font-size="9.8" text-anchor="middle" font-weight="bold" fill="#111" stroke="#111" stroke-width="0.2">IC<tspan font-size="5.8" dy="2.4">50</tspan><tspan dy="-2.4"> ABT-199 (nM)</tspan></text>
<text x="-0.6" y="217.7" font-size="11.2" text-anchor="start" font-weight="bold" fill="#000" stroke="#000" stroke-width="0.4" >B</text>
<line x1="53.75" y1="234.6" x2="53.75" y2="313.4" stroke="#111" stroke-width="1.25"/>
<line x1="53.15" y1="313.4" x2="245.8" y2="313.4" stroke="#111" stroke-width="1.25"/>
<line x1="50.75" y1="313.4" x2="53.75" y2="313.4" stroke="#111" stroke-width="1.0"/>
<text x="47.95" y="316.4" font-size="8.4" text-anchor="end" font-weight="normal" fill="#111" stroke="#111" stroke-width="0.4" >0</text>
<line x1="50.75" y1="298.03999999999996" x2="53.75" y2="298.03999999999996" stroke="#111" stroke-width="1.0"/>
<text x="47.95" y="301.04" font-size="8.4" text-anchor="end" font-weight="normal" fill="#111" stroke="#111" stroke-width="0.4" >20</text>
<line x1="50.75" y1="282.68" x2="53.75" y2="282.68" stroke="#111" stroke-width="1.0"/>
<text x="47.95" y="285.68" font-size="8.4" text-anchor="end" font-weight="normal" fill="#111" stroke="#111" stroke-width="0.4" >40</text>
<line x1="50.75" y1="267.32" x2="53.75" y2="267.32" stroke="#111" stroke-width="1.0"/>
<text x="47.95" y="270.32" font-size="8.4" text-anchor="end" font-weight="normal" fill="#111" stroke="#111" stroke-width="0.4" >60</text>
<line x1="50.75" y1="251.95999999999998" x2="53.75" y2="251.95999999999998" stroke="#111" stroke-width="1.0"/>
<text x="47.95" y="254.96" font-size="8.4" text-anchor="end" font-weight="normal" fill="#111" stroke="#111" stroke-width="0.4" >80</text>
<line x1="50.75" y1="236.6" x2="53.75" y2="236.6" stroke="#111" stroke-width="1.0"/>
<text x="47.95" y="239.6" font-size="8.4" text-anchor="end" font-weight="normal" fill="#111" stroke="#111" stroke-width="0.4" >100</text>
<line x1="53.75" y1="313.4" x2="53.75" y2="316.4" stroke="#111" stroke-width="1.0"/>
<text x="53.75" y="326.6" font-size="8.7" text-anchor="middle" font-weight="normal" fill="#111" stroke="#111" stroke-width="0.4" >0</text>
<line x1="100.89" y1="313.4" x2="100.89" y2="316.4" stroke="#111" stroke-width="1.0"/>
<text x="100.89" y="326.6" font-size="8.7" text-anchor="middle" font-weight="normal" fill="#111" stroke="#111" stroke-width="0.4" >200</text>
<line x1="148.03" y1="313.4" x2="148.03" y2="316.4" stroke="#111" stroke-width="1.0"/>
<text x="148.03" y="326.6" font-size="8.7" text-anchor="middle" font-weight="normal" fill="#111" stroke="#111" stroke-width="0.4" >400</text>
<line x1="195.17" y1="313.4" x2="195.17" y2="316.4" stroke="#111" stroke-width="1.0"/>
<text x="195.17" y="326.6" font-size="8.7" text-anchor="middle" font-weight="normal" fill="#111" stroke="#111" stroke-width="0.4" >600</text>
<line x1="242.31" y1="313.4" x2="242.31" y2="316.4" stroke="#111" stroke-width="1.0"/>
<text x="242.31" y="326.6" font-size="8.7" text-anchor="middle" font-weight="normal" fill="#111" stroke="#111" stroke-width="0.4" >800</text>
<polyline points="53.75,236.60 54.93,241.98 56.11,246.58 58.46,250.42 65.53,256.11 77.32,260.87 100.89,259.33 148.03,262.71 242.31,260.02" fill="none" stroke="#111" stroke-width="1.1"/>
<polygon points="51.25,236.60 53.75,234.10 56.25,236.60 53.75,239.10" fill="#111"/>
<line x1="54.9285" y1="244.28" x2="54.9285" y2="239.672" stroke="#111" stroke-width="0.9"/>
<line x1="52.7285" y1="244.28" x2="57.1285" y2="244.28" stroke="#111" stroke-width="0.9"/>
<line x1="52.7285" y1="239.672" x2="57.1285" y2="239.672" stroke="#111" stroke-width="0.9"/>
<polygon points="52.43,241.98 54.93,239.48 57.43,241.98 54.93,244.48" fill="#111"/>
<line x1="56.107" y1="255.03199999999998" x2="56.107" y2="238.51999999999998" stroke="#111" stroke-width="0.9"/>
<line x1="53.907" y1="255.03199999999998" x2="58.307" y2="255.03199999999998" stroke="#111" stroke-width="0.9"/>
<line x1="53.907" y1="238.51999999999998" x2="58.307" y2="238.51999999999998" stroke="#111" stroke-width="0.9"/>
<polygon points="53.61,246.58 56.11,244.08 58.61,246.58 56.11,249.08" fill="#111"/>
<line x1="58.464" y1="251.95999999999998" x2="58.464" y2="248.88799999999998" stroke="#111" stroke-width="0.9"/>
<line x1="56.263999999999996" y1="251.95999999999998" x2="60.664" y2="251.95999999999998" stroke="#111" stroke-width="0.9"/>
<line x1="56.263999999999996" y1="248.88799999999998" x2="60.664" y2="248.88799999999998" stroke="#111" stroke-width="0.9"/>
<polygon points="55.96,250.42 58.46,247.92 60.96,250.42 58.46,252.92" fill="#111"/>
<line x1="65.535" y1="261.32959999999997" x2="65.535" y2="250.5776" stroke="#111" stroke-width="0.9"/>
<line x1="63.334999999999994" y1="261.32959999999997" x2="67.735" y2="261.32959999999997" stroke="#111" stroke-width="0.9"/>
<line x1="63.334999999999994" y1="250.5776" x2="67.735" y2="250.5776" stroke="#111" stroke-width="0.9"/>
<polygon points="63.03,256.11 65.53,253.61 68.03,256.11 65.53,258.61" fill="#111"/>
<line x1="77.32" y1="268.08799999999997" x2="77.32" y2="253.3424" stroke="#111" stroke-width="0.9"/>
<line x1="75.11999999999999" y1="268.08799999999997" x2="79.52" y2="268.08799999999997" stroke="#111" stroke-width="0.9"/>
<line x1="75.11999999999999" y1="253.3424" x2="79.52" y2="253.3424" stroke="#111" stroke-width="0.9"/>
<polygon points="74.82,260.87 77.32,258.37 79.82,260.87 77.32,263.37" fill="#111"/>
<line x1="100.89" y1="265.0928" x2="100.89" y2="253.3424" stroke="#111" stroke-width="0.9"/>
<line x1="98.69" y1="265.0928" x2="103.09" y2="265.0928" stroke="#111" stroke-width="0.9"/>
<line x1="98.69" y1="253.3424" x2="103.09" y2="253.3424" stroke="#111" stroke-width="0.9"/>
<polygon points="98.39,259.33 100.89,256.83 103.39,259.33 100.89,261.83" fill="#111"/>
<line x1="148.03" y1="264.0176" x2="148.03" y2="261.40639999999996" stroke="#111" stroke-width="0.9"/>
<line x1="145.83" y1="264.0176" x2="150.23" y2="264.0176" stroke="#111" stroke-width="0.9"/>
<line x1="145.83" y1="261.40639999999996" x2="150.23" y2="261.40639999999996" stroke="#111" stroke-width="0.9"/>
<polygon points="145.53,262.71 148.03,260.21 150.53,262.71 148.03,265.21" fill="#111"/>
<line x1="242.31" y1="262.328" x2="242.31" y2="257.71999999999997" stroke="#111" stroke-width="0.9"/>
<line x1="240.11" y1="262.328" x2="244.51" y2="262.328" stroke="#111" stroke-width="0.9"/>
<line x1="240.11" y1="257.71999999999997" x2="244.51" y2="257.71999999999997" stroke="#111" stroke-width="0.9"/>
<polygon points="239.81,260.02 242.31,257.52 244.81,260.02 242.31,262.52" fill="#111"/>
<line x1="53.75" y1="327.6" x2="53.75" y2="406.8" stroke="#111" stroke-width="1.25"/>
<line x1="53.15" y1="406.8" x2="246.3" y2="406.8" stroke="#111" stroke-width="1.25"/>
<line x1="50.75" y1="406.8" x2="53.75" y2="406.8" stroke="#111" stroke-width="1.0"/>
<text x="47.95" y="409.8" font-size="8.4" text-anchor="end" font-weight="normal" fill="#111" stroke="#111" stroke-width="0.4" >0</text>
<line x1="50.75" y1="391.36" x2="53.75" y2="391.36" stroke="#111" stroke-width="1.0"/>
<text x="47.95" y="394.36" font-size="8.4" text-anchor="end" font-weight="normal" fill="#111" stroke="#111" stroke-width="0.4" >20</text>
<line x1="50.75" y1="375.92" x2="53.75" y2="375.92" stroke="#111" stroke-width="1.0"/>
<text x="47.95" y="378.92" font-size="8.4" text-anchor="end" font-weight="normal" fill="#111" stroke="#111" stroke-width="0.4" >40</text>
<line x1="50.75" y1="360.48" x2="53.75" y2="360.48" stroke="#111" stroke-width="1.0"/>
<text x="47.95" y="363.48" font-size="8.4" text-anchor="end" font-weight="normal" fill="#111" stroke="#111" stroke-width="0.4" >60</text>
<line x1="50.75" y1="345.04" x2="53.75" y2="345.04" stroke="#111" stroke-width="1.0"/>
<text x="47.95" y="348.04" font-size="8.4" text-anchor="end" font-weight="normal" fill="#111" stroke="#111" stroke-width="0.4" >80</text>
<line x1="50.75" y1="329.6" x2="53.75" y2="329.6" stroke="#111" stroke-width="1.0"/>
<text x="47.95" y="332.6" font-size="8.4" text-anchor="end" font-weight="normal" fill="#111" stroke="#111" stroke-width="0.4" >100</text>
<line x1="53.75" y1="406.8" x2="53.75" y2="409.8" stroke="#111" stroke-width="1.0"/>
<text x="53.75" y="422.1" font-size="9.0" text-anchor="middle" font-weight="normal" fill="#111" stroke="#111" stroke-width="0.4" >0</text>
<line x1="99.5" y1="406.8" x2="99.5" y2="409.8" stroke="#111" stroke-width="1.0"/>
<text x="99.5" y="422.1" font-size="9.0" text-anchor="middle" font-weight="normal" fill="#111" stroke="#111" stroke-width="0.4" >5</text>
<line x1="145.25" y1="406.8" x2="145.25" y2="409.8" stroke="#111" stroke-width="1.0"/>
<text x="145.25" y="422.1" font-size="9.0" text-anchor="middle" font-weight="normal" fill="#111" stroke="#111" stroke-width="0.4" >10</text>
<line x1="191.0" y1="406.8" x2="191.0" y2="409.8" stroke="#111" stroke-width="1.0"/>
<text x="191.0" y="422.1" font-size="9.0" text-anchor="middle" font-weight="normal" fill="#111" stroke="#111" stroke-width="0.4" >15</text>
<line x1="236.75" y1="406.8" x2="236.75" y2="409.8" stroke="#111" stroke-width="1.0"/>
<text x="236.75" y="422.1" font-size="9.0" text-anchor="middle" font-weight="normal" fill="#111" stroke="#111" stroke-width="0.4" >20</text>
<polyline points="53.75,329.60 58.33,336.55 62.90,347.36 72.05,351.99 99.50,367.43 145.25,375.53 236.75,376.31" fill="none" stroke="#111" stroke-width="1.1"/>
<polygon points="51.25,329.60 53.75,327.10 56.25,329.60 53.75,332.10" fill="#111"/>
<line x1="58.325" y1="345.04" x2="58.325" y2="328.82800000000003" stroke="#111" stroke-width="0.9"/>
<line x1="56.125" y1="345.04" x2="60.525000000000006" y2="345.04" stroke="#111" stroke-width="0.9"/>
<line x1="56.125" y1="328.82800000000003" x2="60.525000000000006" y2="328.82800000000003" stroke="#111" stroke-width="0.9"/>
<polygon points="55.83,336.55 58.33,334.05 60.83,336.55 58.33,339.05" fill="#111"/>
<line x1="62.9" y1="355.076" x2="62.9" y2="339.636" stroke="#111" stroke-width="0.9"/>
<line x1="60.699999999999996" y1="355.076" x2="65.1" y2="355.076" stroke="#111" stroke-width="0.9"/>
<line x1="60.699999999999996" y1="339.636" x2="65.1" y2="339.636" stroke="#111" stroke-width="0.9"/>
<polygon points="60.40,347.36 62.90,344.86 65.40,347.36 62.90,349.86" fill="#111"/>
<line x1="72.05" y1="358.164" x2="72.05" y2="345.812" stroke="#111" stroke-width="0.9"/>
<line x1="69.85" y1="358.164" x2="74.25" y2="358.164" stroke="#111" stroke-width="0.9"/>
<line x1="69.85" y1="345.812" x2="74.25" y2="345.812" stroke="#111" stroke-width="0.9"/>
<polygon points="69.55,351.99 72.05,349.49 74.55,351.99 72.05,354.49" fill="#111"/>
<line x1="99.5" y1="371.288" x2="99.5" y2="362.796" stroke="#111" stroke-width="0.9"/>
<line x1="97.3" y1="371.288" x2="101.7" y2="371.288" stroke="#111" stroke-width="0.9"/>
<line x1="97.3" y1="362.796" x2="101.7" y2="362.796" stroke="#111" stroke-width="0.9"/>
<polygon points="97.00,367.43 99.50,364.93 102.00,367.43 99.50,369.93" fill="#111"/>
<line x1="145.25" y1="379.78000000000003" x2="145.25" y2="371.288" stroke="#111" stroke-width="0.9"/>
<line x1="143.05" y1="379.78000000000003" x2="147.45" y2="379.78000000000003" stroke="#111" stroke-width="0.9"/>
<line x1="143.05" y1="371.288" x2="147.45" y2="371.288" stroke="#111" stroke-width="0.9"/>
<polygon points="142.75,375.53 145.25,373.03 147.75,375.53 145.25,378.03" fill="#111"/>
<line x1="236.75" y1="381.71000000000004" x2="236.75" y2="370.74760000000003" stroke="#111" stroke-width="0.9"/>
<line x1="234.55" y1="381.71000000000004" x2="238.95" y2="381.71000000000004" stroke="#111" stroke-width="0.9"/>
<line x1="234.55" y1="370.74760000000003" x2="238.95" y2="370.74760000000003" stroke="#111" stroke-width="0.9"/>
<polygon points="234.25,376.31 236.75,373.81 239.25,376.31 236.75,378.81" fill="#111"/>
<text x="165.1" y="232.7" font-size="9.0" text-anchor="middle" font-weight="normal" fill="#111" stroke="#111" stroke-width="0.4" >mature T-ALL</text>
<text x="165.1" y="244" font-size="9.0" text-anchor="middle" font-weight="normal" fill="#111" stroke="#111" stroke-width="0.4" >diagnosis</text>
<text x="165.1" y="254.9" font-size="9.0" text-anchor="middle" font-weight="normal" fill="#111" stroke="#111" stroke-width="0.4" >IC50 &gt; 800 nM</text>
<text x="165.3" y="343.0" font-size="9.05" text-anchor="middle" font-weight="normal" fill="#111" stroke="#111" stroke-width="0.4" >immature/biphenotypic T-ALL</text>
<text x="165.3" y="353.0" font-size="9.05" text-anchor="middle" font-weight="normal" fill="#111" stroke="#111" stroke-width="0.4" >relapse</text>
<text x="165.3" y="363.6" font-size="9.05" text-anchor="middle" font-weight="normal" fill="#111" stroke="#111" stroke-width="0.4" >IC50 = 7.32 nM</text>
<text x="152" y="437.2" font-size="9.7" text-anchor="middle" font-weight="normal" fill="#111" stroke="#111" stroke-width="0.4" >ABT-199 (nM)</text>
<text transform="translate(25.0,308) rotate(-90)" font-size="10" text-anchor="middle" fill="#111" stroke="#111" stroke-width="0.3">Relative viability (%)</text>
<text x="300.6" y="218.3" font-size="11.5" text-anchor="start" font-weight="bold" fill="#000" stroke="#000" stroke-width="0.4" >C</text>
<line x1="358" y1="216.5" x2="358" y2="304.8" stroke="#111" stroke-width="1.15"/>
<line x1="358" y1="304.25" x2="490.75" y2="304.25" stroke="#111" stroke-width="1.15"/>
<line x1="355" y1="304.25" x2="358" y2="304.25" stroke="#111" stroke-width="1.0"/>
<text x="352.8" y="307.35" font-size="8.2" text-anchor="end" font-weight="normal" fill="#111" stroke="#111" stroke-width="0.4" >0</text>
<line x1="355" y1="282.45" x2="358" y2="282.45" stroke="#111" stroke-width="1.0"/>
<text x="352.8" y="285.55" font-size="8.2" text-anchor="end" font-weight="normal" fill="#111" stroke="#111" stroke-width="0.4" >0.5</text>
<line x1="355" y1="260.65" x2="358" y2="260.65" stroke="#111" stroke-width="1.0"/>
<text x="352.8" y="263.75" font-size="8.2" text-anchor="end" font-weight="normal" fill="#111" stroke="#111" stroke-width="0.4" >1.0</text>
<line x1="355" y1="238.85" x2="358" y2="238.85" stroke="#111" stroke-width="1.0"/>
<text x="352.8" y="241.95" font-size="8.2" text-anchor="end" font-weight="normal" fill="#111" stroke="#111" stroke-width="0.4" >1.5</text>
<line x1="355" y1="217.05" x2="358" y2="217.05" stroke="#111" stroke-width="1.0"/>
<text x="352.8" y="220.15" font-size="8.2" text-anchor="end" font-weight="normal" fill="#111" stroke="#111" stroke-width="0.4" >2.0</text>
<rect x="375.75" y="279.0056" width="31.25" height="25.2444" fill="#1c1c1c"/>
<line x1="391.375" y1="279.0056" x2="391.375" y2="277.218" stroke="#111" stroke-width="1.1"/>
<line x1="382.875" y1="277.218" x2="399.875" y2="277.218" stroke="#111" stroke-width="1.1"/>
<rect x="440.75" y="229.5196" width="32.0" height="74.7304" fill="#1c1c1c"/>
<line x1="456.75" y1="229.5196" x2="456.75" y2="226.99079999999998" stroke="#111" stroke-width="1.1"/>
<line x1="448.25" y1="226.99079999999998" x2="465.25" y2="226.99079999999998" stroke="#111" stroke-width="1.1"/>
<text x="398.75" y="316.2" font-size="9.8" text-anchor="middle" font-weight="normal" fill="#111" stroke="#111" stroke-width="0.4" >diagnosis</text>
<text x="467.9" y="316.2" font-size="9.8" text-anchor="middle" font-weight="normal" fill="#111" stroke="#111" stroke-width="0.4" >relapse</text>
<line x1="391.6" y1="304.25" x2="391.6" y2="306.85" stroke="#111" stroke-width="0.9"/>
<line x1="456.75" y1="304.25" x2="456.75" y2="306.85" stroke="#111" stroke-width="0.9"/>
<text transform="translate(329.8,260.9) rotate(-90)" font-size="9.95" text-anchor="middle" fill="#111" stroke="#111" stroke-width="0.3"><tspan font-style="italic">BCL-2</tspan> expression</text>
<text x="300.5" y="333.7" font-size="11.4" text-anchor="start" font-weight="bold" fill="#000" stroke="#000" stroke-width="0.4" >D</text>
<line x1="358" y1="337.75" x2="358" y2="425.55" stroke="#111" stroke-width="1.15"/>
<line x1="358" y1="425" x2="488.25" y2="425" stroke="#111" stroke-width="1.15"/>
<line x1="355" y1="425.0" x2="358" y2="425.0" stroke="#111" stroke-width="1.0"/>
<text x="353.5" y="428.1" font-size="8.2" text-anchor="end" font-weight="normal" fill="#111" stroke="#111" stroke-width="0.4" >0</text>
<line x1="355" y1="407.65" x2="358" y2="407.65" stroke="#111" stroke-width="1.0"/>
<text x="353.5" y="410.75" font-size="8.2" text-anchor="end" font-weight="normal" fill="#111" stroke="#111" stroke-width="0.4" >10</text>
<line x1="355" y1="390.3" x2="358" y2="390.3" stroke="#111" stroke-width="1.0"/>
<text x="353.5" y="393.4" font-size="8.2" text-anchor="end" font-weight="normal" fill="#111" stroke="#111" stroke-width="0.4" >20</text>
<line x1="355" y1="372.95" x2="358" y2="372.95" stroke="#111" stroke-width="1.0"/>
<text x="353.5" y="376.05" font-size="8.2" text-anchor="end" font-weight="normal" fill="#111" stroke="#111" stroke-width="0.4" >30</text>
<line x1="355" y1="355.6" x2="358" y2="355.6" stroke="#111" stroke-width="1.0"/>
<text x="353.5" y="358.7" font-size="8.2" text-anchor="end" font-weight="normal" fill="#111" stroke="#111" stroke-width="0.4" >40</text>
<line x1="355" y1="338.25" x2="358" y2="338.25" stroke="#111" stroke-width="1.0"/>
<text x="353.5" y="341.35" font-size="8.2" text-anchor="end" font-weight="normal" fill="#111" stroke="#111" stroke-width="0.4" >50</text>
<line x1="390.25" y1="425" x2="390.25" y2="427.8" stroke="#111" stroke-width="1.0"/>
<line x1="455.5" y1="425" x2="455.5" y2="427.8" stroke="#111" stroke-width="1.0"/>
<line x1="368" y1="383.75" x2="412.5" y2="383.75" stroke="#111" stroke-width="1.0"/>
<line x1="390.25" y1="358" x2="390.25" y2="409.25" stroke="#111" stroke-width="1.0"/>
<line x1="379.5" y1="358" x2="401.25" y2="358" stroke="#111" stroke-width="1.0"/>
<line x1="379.5" y1="409.25" x2="401.25" y2="409.25" stroke="#111" stroke-width="1.0"/>
<circle cx="390.25" cy="359.5" r="1.7" fill="#111"/>
<circle cx="395.25" cy="365.75" r="1.7" fill="#111"/>
<circle cx="390.25" cy="371" r="1.7" fill="#111"/>
<circle cx="390.25" cy="404.25" r="1.7" fill="#111"/>
<circle cx="390.25" cy="417.75" r="1.7" fill="#111"/>
<line x1="433.75" y1="408.5" x2="477.5" y2="408.5" stroke="#111" stroke-width="1.0"/>
<line x1="455.5" y1="403.25" x2="455.5" y2="413.75" stroke="#111" stroke-width="1.0"/>
<line x1="444.5" y1="403.25" x2="466.25" y2="403.25" stroke="#111" stroke-width="1.0"/>
<line x1="444.5" y1="413.75" x2="466.25" y2="413.75" stroke="#111" stroke-width="1.0"/>
<rect x="449.0" y="404.25" width="3" height="3" fill="#111"/>
<rect x="454.0" y="405.0" width="3" height="3" fill="#111"/>
<rect x="459.25" y="401.75" width="3" height="3" fill="#111"/>
<rect x="459.25" y="410.75" width="3" height="3" fill="#111"/>
<rect x="454.0" y="414.25" width="3" height="3" fill="#111"/>
<polyline points="389.25,345.75 389.25,340.5 455.5,340.5 455.5,346" fill="none" stroke="#111" stroke-width="1.0"/>
<text x="420.6" y="341.6" font-size="11" text-anchor="middle" font-weight="normal" fill="#111" stroke="#111" stroke-width="0.4" >*</text>
<text x="393.3" y="438" font-size="9.7" text-anchor="middle" font-weight="normal" fill="#111" stroke="#111" stroke-width="0.4" >Vehicle</text>
<text x="458.5" y="438" font-size="9.8" text-anchor="middle" font-weight="normal" fill="#111" stroke="#111" stroke-width="0.4" >ABT-199</text>
<text transform="translate(336,380.2) rotate(-90)" font-size="10.05" text-anchor="middle" fill="#111" stroke="#111" stroke-width="0.3">hCD45 in BM (%)</text>
</g>
</svg>
</body></html>
